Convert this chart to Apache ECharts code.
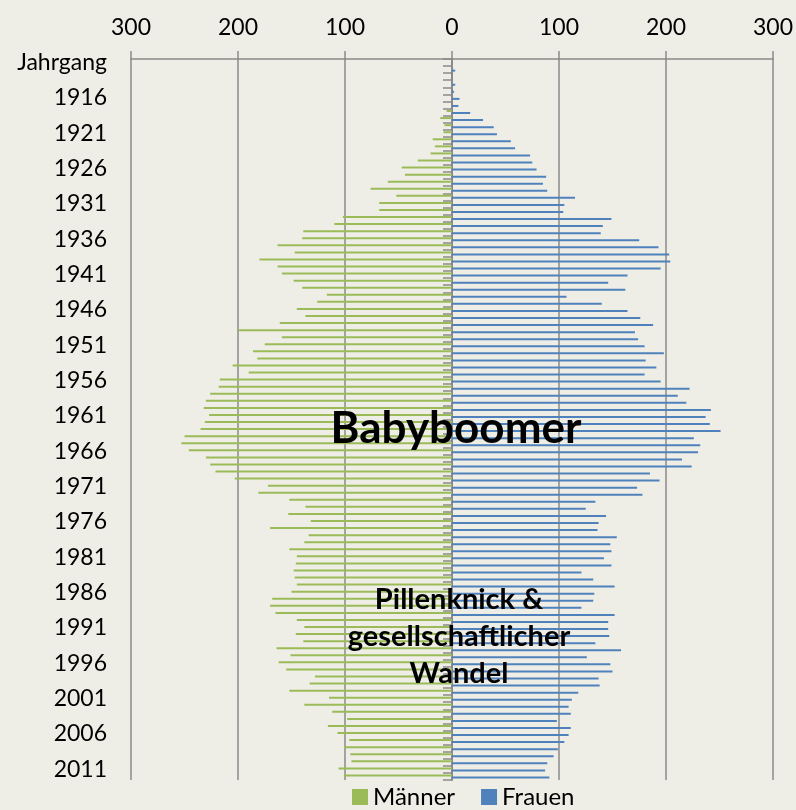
<!DOCTYPE html>
<html>
<head>
<meta charset="utf-8">
<script src="https://cdn.jsdelivr.net/npm/echarts@6/dist/echarts.min.js"></script>
<style>
html, body { margin: 0; padding: 0; background: #EFEEE6; }
#main { width: 796px; height: 810px; }
</style>
</head>
<body>
<div id="main"></div>
<script>
// Jahrgang-Kategorien: erste Zeile ist die Achsenüberschrift, dann 1912..2012
const jahre = [];
for (let j = 1912; j <= 2012; j++) jahre.push(String(j));
const kategorien = ['Jahrgang'].concat(jahre);

// Männer (positiv, wird links negativ gezeichnet)
const maenner = [null,
  0, 0, 0, 0, 0, 0,
  5, 11, 7, 8, 18, 16, 20, 32, 47, 44, 60, 76, 52,
  68, 68, 102, 110, 139, 140, 163, 147, 180, 163, 159, 148, 140, 117, 126, 145, 137, 161, 200, 159,
  175, 186, 182, 205, 190, 217, 218, 226, 230, 232, 227, 231, 235, 250, 253, 246, 230, 226, 221, 203, 172,
  181, 152, 137, 153, 132, 170, 134, 138, 152, 145, 146, 148, 147, 145, 150, 168, 170, 165, 145, 138,
  146, 139, 164, 151, 162, 155, 128, 133, 152, 115, 138, 112, 98, 116, 107, 96, 101, 95, 94, 106, 101];

// Frauen
const frauen = [null,
  3, 0, 3, 2, 7, 6,
  17, 29, 39, 42, 55, 59, 73, 75, 79, 88, 85, 89, 115,
  105, 104, 149, 141, 139, 175, 193, 203, 204, 195, 164, 146, 162, 107, 140, 164, 176, 188, 171, 174,
  180, 198, 181, 191, 180, 195, 222, 211, 219, 242, 237, 241, 251, 226, 232, 230, 215, 224, 185, 194, 173,
  178, 134, 125, 144, 137, 136, 154, 148, 149, 142, 149, 121, 132, 152, 133, 132, 121, 152, 146, 146,
  147, 134, 158, 126, 148, 150, 137, 138, 118, 112, 109, 111, 98, 111, 109, 105, 99, 95, 89, 87, 91];

const achsenWerte = [-300, 300, 100];

const grau = '#8a8a8a';
const schrift = 'Lato';

var myChart = echarts.init(document.querySelector('#main'));

var option = {
  backgroundColor: '#EFEEE6',
  animation: false,
  textStyle: { fontFamily: schrift },
  grid: { left: 131, right: 21, top: 59, bottom: 30 },
  legend: {
    data: ['Männer', 'Frauen'],
    top: 785,
    left: 352,
    padding: 0,
    icon: 'rect',
    itemWidth: 16,
    itemHeight: 16,
    itemGap: 26,
    textStyle: { fontSize: 24, color: '#000', fontFamily: schrift }
  },
  xAxis: {
    type: 'value',
    position: 'top',
    min: achsenWerte[0],
    max: achsenWerte[1],
    interval: achsenWerte[2],
    axisLine: { show: true, onZero: false, lineStyle: { color: grau, width: 1.5 } },
    axisTick: { show: true, length: 8, lineStyle: { color: grau, width: 1.5 } },
    axisLabel: {
      formatter: v => Math.abs(v),
      fontSize: 23, color: '#000', fontFamily: schrift, margin: 20
    },
    splitLine: { show: true, lineStyle: { color: grau, width: 1.5 } }
  },
  yAxis: [
    {
      type: 'category',
      data: kategorien,
      inverse: true,
      position: 'left',
      axisLine: { show: false, onZero: false },
      axisTick: { show: false },
      axisLabel: { interval: 4, fontSize: 23, color: '#000', fontFamily: schrift, margin: 24 },
      splitLine: { show: false }
    },
    {
      type: 'category',
      data: kategorien,
      inverse: true,
      position: 'left',
      axisLine: { show: true, onZero: true, lineStyle: { color: grau, width: 2 } },
      axisTick: { show: true, interval: 0, length: 9, lineStyle: { color: grau, width: 1.5 } },
      axisLabel: { show: false },
      splitLine: { show: false }
    }
  ],
  series: [
    {
      name: 'Männer',
      type: 'bar',
      yAxisIndex: 0,
      barWidth: 2,
      barGap: '0%',
      itemStyle: { color: '#9BBB59' },
      data: maenner.map(v => v == null ? null : -v)
    },
    {
      name: 'Frauen',
      type: 'bar',
      yAxisIndex: 0,
      barWidth: 2,
      barGap: '0%',
      itemStyle: { color: '#4F81BD' },
      data: frauen
    }
  ],
  graphic: [
    {
      type: 'text', x: 456, y: 429, z: 100,
      style: { text: 'Babyboomer', fill: '#000', font: 'bold 44px Lato', textAlign: 'center', textVerticalAlign: 'middle' }
    },
    {
      type: 'text', x: 459, y: 637, z: 100,
      style: {
        text: 'Pillenknick &\ngesellschaftlicher\nWandel',
        fill: '#000', font: 'bold 29px Lato', lineHeight: 37,
        textAlign: 'center', textVerticalAlign: 'middle'
      }
    }
  ]
};

myChart.setOption(option);
</script>
</body>
</html>
